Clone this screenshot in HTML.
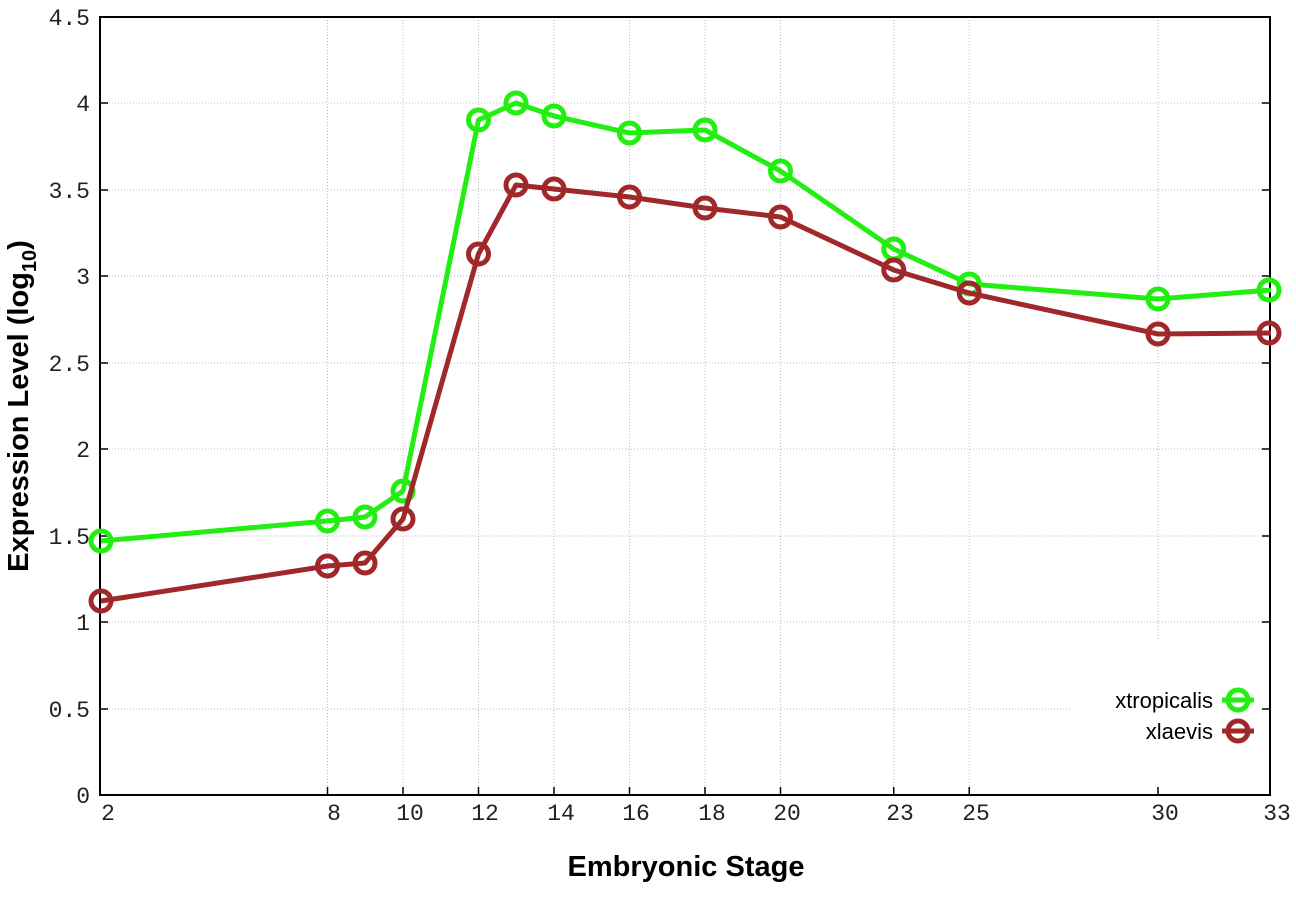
<!DOCTYPE html>
<html><head><meta charset="utf-8"><style>
html,body{margin:0;padding:0;background:#fff;}
</style></head><body>
<svg width="1296" height="907" viewBox="0 0 1296 907" xmlns="http://www.w3.org/2000/svg">
<rect width="1296" height="907" fill="#fff"/>
<g stroke="#bbb" stroke-width="1" stroke-dasharray="1,2">
<line x1="100" x2="1270" y1="103" y2="103"/>
<line x1="100" x2="1270" y1="190" y2="190"/>
<line x1="100" x2="1270" y1="276" y2="276"/>
<line x1="100" x2="1270" y1="363" y2="363"/>
<line x1="100" x2="1270" y1="449" y2="449"/>
<line x1="100" x2="1270" y1="536" y2="536"/>
<line x1="100" x2="1270" y1="622" y2="622"/>
<line x1="100" x2="1070" y1="709" y2="709"/>
<line x1="327.5" x2="327.5" y1="17" y2="795"/>
<line x1="403" x2="403" y1="17" y2="795"/>
<line x1="478.5" x2="478.5" y1="17" y2="795"/>
<line x1="554" x2="554" y1="17" y2="795"/>
<line x1="629.5" x2="629.5" y1="17" y2="795"/>
<line x1="705" x2="705" y1="17" y2="795"/>
<line x1="780.5" x2="780.5" y1="17" y2="795"/>
<line x1="893.75" x2="893.75" y1="17" y2="795"/>
<line x1="969.25" x2="969.25" y1="17" y2="795"/>
<line x1="1158" x2="1158" y1="17" y2="640"/>
</g>
<rect x="100" y="17" width="1170" height="778" fill="none" stroke="#000" stroke-width="2"/>
<g stroke="#000" stroke-width="1.5">
<line x1="100" x2="108" y1="103" y2="103"/><line x1="100" x2="108" y1="190" y2="190"/><line x1="100" x2="108" y1="276" y2="276"/><line x1="100" x2="108" y1="363" y2="363"/><line x1="100" x2="108" y1="449" y2="449"/><line x1="100" x2="108" y1="536" y2="536"/><line x1="100" x2="108" y1="622" y2="622"/><line x1="100" x2="108" y1="709" y2="709"/>
<line x1="1262" x2="1270" y1="103" y2="103"/><line x1="1262" x2="1270" y1="190" y2="190"/><line x1="1262" x2="1270" y1="276" y2="276"/><line x1="1262" x2="1270" y1="363" y2="363"/><line x1="1262" x2="1270" y1="449" y2="449"/><line x1="1262" x2="1270" y1="536" y2="536"/><line x1="1262" x2="1270" y1="622" y2="622"/><line x1="1262" x2="1270" y1="709" y2="709"/>
<line x1="327.5" x2="327.5" y1="787" y2="795"/><line x1="403" x2="403" y1="787" y2="795"/><line x1="478.5" x2="478.5" y1="787" y2="795"/><line x1="554" x2="554" y1="787" y2="795"/><line x1="629.5" x2="629.5" y1="787" y2="795"/><line x1="705" x2="705" y1="787" y2="795"/><line x1="780.5" x2="780.5" y1="787" y2="795"/><line x1="893.75" x2="893.75" y1="787" y2="795"/><line x1="969.25" x2="969.25" y1="787" y2="795"/><line x1="1158" x2="1158" y1="787" y2="795"/>
</g>
<g font-family="Liberation Mono, monospace" font-size="23" fill="#222" text-anchor="end">
<text x="90" y="25">4.5</text><text x="90" y="111">4</text><text x="90" y="198">3.5</text><text x="90" y="284">3</text><text x="90" y="371">2.5</text><text x="90" y="457">2</text><text x="90" y="544">1.5</text><text x="90" y="630">1</text><text x="90" y="717">0.5</text><text x="90" y="803">0</text>
</g>
<g font-family="Liberation Mono, monospace" font-size="23" fill="#222" text-anchor="middle">
<text x="108" y="820">2</text><text x="334" y="820">8</text><text x="410" y="820">10</text><text x="485" y="820">12</text><text x="561" y="820">14</text><text x="636" y="820">16</text><text x="712" y="820">18</text><text x="787" y="820">20</text><text x="900" y="820">23</text><text x="976" y="820">25</text><text x="1165" y="820">30</text><text x="1277" y="820">33</text>
</g>
<text x="686" y="876" font-family="Liberation Sans, sans-serif" font-size="29" font-weight="bold" text-anchor="middle">Embryonic Stage</text>
<text transform="translate(28,406) rotate(-90)" font-family="Liberation Sans, sans-serif" font-size="29" font-weight="bold" text-anchor="middle">Expression Level (log<tspan font-size="20" dy="8">10</tspan><tspan dy="-8">)</tspan></text>
<g fill="none" stroke-width="5" stroke-linejoin="round">
<polyline stroke="#22ee11" points="101,541 327.5,521 365,517 403,491 478.5,120 516,103 554,116 629.5,133 705,130 780.5,171 893.75,249 969.25,284 1158,299 1271,290"/>
<g stroke="#22ee11"><circle cx="101" cy="541" r="10"/><circle cx="327.5" cy="521" r="10"/><circle cx="365" cy="517" r="10"/><circle cx="403" cy="491" r="10"/><circle cx="478.5" cy="120" r="10"/><circle cx="516" cy="103" r="10"/><circle cx="554" cy="116" r="10"/><circle cx="629.5" cy="133" r="10"/><circle cx="705" cy="130" r="10"/><circle cx="780.5" cy="171" r="10"/><circle cx="893.75" cy="249" r="10"/><circle cx="969.25" cy="284" r="10"/><circle cx="1158" cy="299" r="10"/><circle cx="1269" cy="290" r="10"/></g>
<polyline stroke="#a0282a" points="101,601 327.5,566 365,563 403,519 478.5,254 516,185 554,189 629.5,197 705,208 780.5,217 893.75,270 969.25,293 1158,334 1271,333"/>
<g stroke="#a0282a"><circle cx="101" cy="601" r="10"/><circle cx="327.5" cy="566" r="10"/><circle cx="365" cy="563" r="10"/><circle cx="403" cy="519" r="10"/><circle cx="478.5" cy="254" r="10"/><circle cx="516" cy="185" r="10"/><circle cx="554" cy="189" r="10"/><circle cx="629.5" cy="197" r="10"/><circle cx="705" cy="208" r="10"/><circle cx="780.5" cy="217" r="10"/><circle cx="893.75" cy="270" r="10"/><circle cx="969.25" cy="293" r="10"/><circle cx="1158" cy="334" r="10"/><circle cx="1269" cy="333" r="10"/></g>
<line x1="1222" x2="1254" y1="700" y2="700" stroke="#22ee11"/><circle cx="1238" cy="700" r="10" stroke="#22ee11"/>
<line x1="1222" x2="1254" y1="731" y2="731" stroke="#a0282a"/><circle cx="1238" cy="731" r="10" stroke="#a0282a"/>
</g>
<g font-family="Liberation Sans, sans-serif" font-size="22" fill="#000" text-anchor="end">
<text x="1213" y="708">xtropicalis</text><text x="1213" y="739">xlaevis</text>
</g>
</svg>
</body></html>
